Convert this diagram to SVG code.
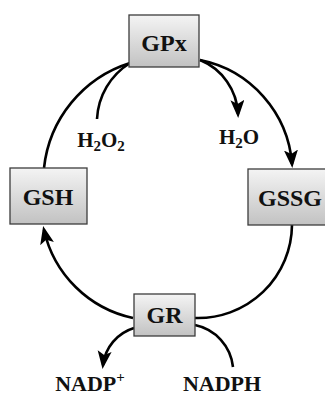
<svg xmlns="http://www.w3.org/2000/svg" width="325" height="399" viewBox="0 0 325 399">
<style>
.box{fill:url(#g);stroke:#3c3c3c;stroke-width:1.3}
.lbl{font-family:"Liberation Serif","Times New Roman",serif;font-weight:bold;fill:#111;text-anchor:middle}
.node{font-size:24px}
.chem{font-size:21px}
.c{fill:none;stroke:#000;stroke-width:2.6}
.a{marker-end:url(#ah)}
</style>
<defs>
<linearGradient id="g" x1="0" y1="0" x2="0" y2="1">
<stop offset="0" stop-color="#f4f4f4"/>
<stop offset="1" stop-color="#c2c2c2"/>
</linearGradient>
<marker id="ah" markerUnits="userSpaceOnUse" markerWidth="19" markerHeight="15" refX="14" refY="7" orient="auto">
<path d="M0,0 L18,7 L0,14 L4,7 z" fill="#000"/>
</marker>
</defs>
<g id="connectors">
<path class="c" d="M44,168 A124,124 0 0 1 130,63"/>
<path class="c a" d="M200,60 A115,115 0 0 1 292,164"/>
<path class="c" d="M292,225 A94,94 0 0 1 195,318"/>
<path class="c a" d="M133,318 A116,116 0 0 1 44,230"/>
<path class="c" d="M97,119 A70,70 0 0 1 130,63"/>
<path class="c a" d="M200,60 A61,61 0 0 1 238,114"/>
<path class="c a" d="M134,328 A44,44 0 0 0 103,365"/>
<path class="c" d="M195,325 A48,48 0 0 1 233,367"/>
</g>
<g id="GPx"><rect class="box" x="129" y="15" width="70" height="52"/><text class="lbl node" x="164" y="51">GPx</text></g>
<g id="GSH"><rect class="box" x="10" y="168" width="77" height="56"/><text class="lbl node" x="48" y="205">GSH</text></g>
<g id="GSSG"><rect class="box" x="248" y="169" width="82" height="56"/><text class="lbl node" x="290" y="206">GSSG</text></g>
<g id="GR"><rect class="box" x="134" y="294" width="61" height="42"/><text class="lbl node" x="164.5" y="323">GR</text></g>
<g id="H2O2"><text class="lbl chem" x="101" y="147">H<tspan font-size="15" dy="4">2</tspan><tspan dy="-4">O</tspan><tspan font-size="15" dy="4">2</tspan></text></g>
<g id="H2O"><text class="lbl chem" x="239" y="144">H<tspan font-size="15" dy="4">2</tspan><tspan dy="-4">O</tspan></text></g>
<g id="NADP"><text class="lbl chem" x="90" y="391" style="font-size:22px">NADP<tspan font-size="15" dy="-9">+</tspan></text></g>
<g id="NADPH"><text class="lbl chem" x="222" y="391" style="font-size:22px">NADPH</text></g>
</svg>
